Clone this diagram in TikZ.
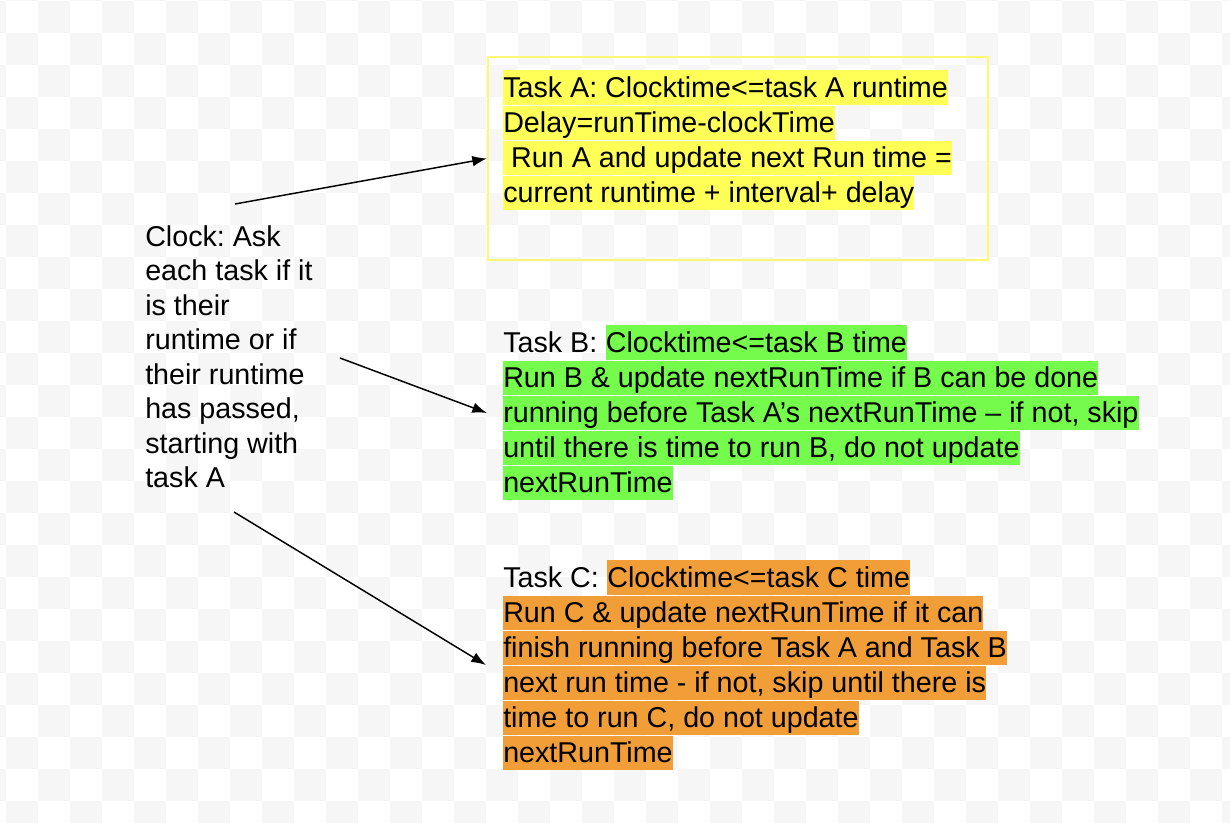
\documentclass[tikz,border=0pt]{standalone}
\usepackage{fontspec}
\setmainfont{Liberation Sans}
\usepackage{xcolor}
\usetikzlibrary{arrows.meta, positioning}
\frenchspacing

\definecolor{checkgray}{HTML}{F6F6F6}
\definecolor{frameyellow}{HTML}{FFF870}
\definecolor{hlyellow}{HTML}{FFFF57}
\definecolor{hlgreen}{HTML}{75FB4C}
\definecolor{hlorange}{HTML}{F19E39}

\tikzset{
  txt/.style={inner sep=0pt, anchor=base west, text height=19.9pt, text depth=6pt,
    font=\fontsize{21.5}{25.9}\selectfont},
  hlA/.style={txt, fill=hlyellow},
  hlB/.style={txt, fill=hlgreen},
  hlC/.style={txt, fill=hlorange},
  arr/.style={-{Latex[length=11pt,width=8pt]}, line width=1.1pt}
}

\begin{document}
\begin{tikzpicture}[x=0.75pt, y=-0.75pt]
    \useasboundingbox (0,0) rectangle (1230,822);
    % background squares
    \fill[white] (0,0) rectangle (1230,822);
    \begin{scope}
    \clip (0,0) rectangle (1230,822);
    \foreach \i in {0,...,39}{
      \foreach \j in {0,...,26}{
        \pgfmathtruncatemacro\isgray{mod(\i+\j,2)}
        \ifnum\isgray=1 \fill[checkgray] ({6+32*(\i-1)},{1+32*(\j-1)}) rectangle +(32,32); \fi
      }
    }
    \end{scope}

    % clock
    \node (clock) [inner sep=0pt, anchor=north west, align=left,
      font=\fontsize{21.5}{25.9}\selectfont] at (145,225.2)
      {Clock: Ask\\each task if it\\is their\\runtime or if\\their runtime\\has passed,\\starting with\\task A};

    % task A
    \node (boxA) [draw=frameyellow, line width=1.5pt, inner sep=0pt, anchor=north west,
      minimum width=375pt, minimum height=152.25pt] at (487,56) {};
    \node (a1) [hlA] at (503,97) {Task A: Clocktime<=task A runtime};
    \node (a2) [hlA, below=0pt of a1.south west, anchor=north west] {Delay=runTime-clockTime};
    \node (a3) [hlA, below=0pt of a2.south west, anchor=north west] {\ Run A and update next Run time =};
    \node (a4) [hlA, below=0pt of a3.south west, anchor=north west] {current runtime + interval+ delay};

    % task B
    \node (lbB) [txt] at (503,352) {Task B:};
    \node (b1) [hlB, xshift=6pt] at (lbB.base east) {Clocktime<=task B time};
    \node (b2) [hlB, below=0pt of lbB.south west, anchor=north west] {Run B \& update nextRunTime if B can be done};
    \node (b3) [hlB, below=0pt of b2.south west, anchor=north west] {running before Task A’s nextRunTime – if not, skip};
    \node (b4) [hlB, below=0pt of b3.south west, anchor=north west] {until there is time to run B, do not update};
    \node (b5) [hlB, below=0pt of b4.south west, anchor=north west] {nextRunTime};

    % task C
    \node (lbC) [txt] at (503,587) {Task C:};
    \node (c1) [hlC, xshift=6pt] at (lbC.base east) {Clocktime<=task C time};
    \node (c2) [hlC, below=0pt of lbC.south west, anchor=north west] {Run C \& update nextRunTime if it can};
    \node (c3) [hlC, below=0pt of c2.south west, anchor=north west] {finish running before Task A and Task B};
    \node (c4) [hlC, below=0pt of c3.south west, anchor=north west] {next run time - if not, skip until there is};
    \node (c5) [hlC, below=0pt of c4.south west, anchor=north west] {time to run C, do not update};
    \node (c6) [hlC, below=0pt of c5.south west, anchor=north west] {nextRunTime};

    % arrows
    \coordinate (s1) at (235,204);
    \coordinate (s2) at (340,358);
    \coordinate (s3) at (234,512);
    \coordinate (t2) at (487,413);
    \coordinate (t3) at (486,665);
    \draw[arr] (s1) -- (boxA.west);
    \draw[arr] (s2) -- (t2);
    \draw[arr] (s3) -- (t3);
\end{tikzpicture}
\end{document}
